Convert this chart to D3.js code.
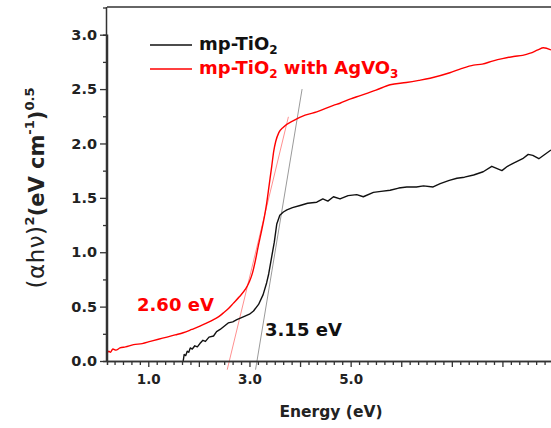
<!DOCTYPE html>
<html><head><meta charset="utf-8">
<script src="https://cdn.jsdelivr.net/npm/d3@7"></script>
<style>
body{margin:0;background:#fff;}
svg text{font-family:"DejaVu Sans",sans-serif;font-weight:bold;}
</style></head>
<body><svg id="c" width="551" height="428"></svg>
<script>
// Data
const blackE = [1.69,1.71,1.74,1.77,1.80,1.83,1.87,1.92,1.97,2.02,2.08,2.13,2.20,2.29,2.35,2.42,2.50,2.58,2.67,2.75,2.90,3.00,3.08,3.18,3.27,3.34,3.38,3.44,3.49,3.54,3.60,3.67,3.74,3.85,4.00,4.15,4.33,4.45,4.55,4.66,4.79,4.95,5.12,5.25,5.45,5.60,5.78,5.95,6.11,6.30,6.44,6.63,6.77,6.95,7.10,7.25,7.43,7.62,7.79,7.99,8.10,8.22,8.40,8.51,8.60,8.72,8.96];
const blackV = [0.00,0.06,0.05,0.09,0.08,0.12,0.11,0.14,0.13,0.16,0.19,0.18,0.22,0.23,0.27,0.29,0.32,0.35,0.36,0.38,0.41,0.43,0.46,0.52,0.61,0.72,0.80,0.96,1.09,1.26,1.34,1.37,1.39,1.41,1.43,1.45,1.46,1.49,1.47,1.51,1.49,1.52,1.53,1.51,1.55,1.56,1.57,1.59,1.60,1.60,1.61,1.60,1.63,1.66,1.68,1.69,1.71,1.74,1.79,1.75,1.79,1.82,1.86,1.90,1.89,1.86,1.94];
const redE = [0.18,0.22,0.25,0.30,0.36,0.44,0.55,0.71,0.88,1.04,1.20,1.37,1.53,1.69,1.86,2.02,2.16,2.29,2.40,2.48,2.58,2.68,2.80,2.92,3.00,3.06,3.12,3.18,3.24,3.30,3.34,3.39,3.44,3.48,3.52,3.58,3.67,3.87,4.10,4.33,4.66,4.79,5.00,5.19,5.50,5.78,6.10,6.35,6.57,6.96,7.20,7.43,7.60,7.82,8.00,8.22,8.40,8.55,8.70,8.81,8.96];
const redV = [0.07,0.09,0.08,0.11,0.10,0.12,0.13,0.15,0.16,0.18,0.20,0.22,0.24,0.26,0.29,0.32,0.35,0.38,0.41,0.44,0.48,0.53,0.59,0.66,0.73,0.81,0.93,1.07,1.20,1.34,1.45,1.62,1.79,1.93,2.02,2.10,2.15,2.21,2.26,2.29,2.35,2.37,2.41,2.44,2.49,2.54,2.56,2.58,2.60,2.65,2.69,2.72,2.73,2.76,2.78,2.80,2.81,2.83,2.86,2.88,2.86];
const redTangent = [[2.56,-0.08],[3.77,2.245]];
const grayTangent = [[3.12,-0.08],[4.04,2.50]];
const xLabelTicks = [1,3,5];
const xMajorTicks = [1,2,3,4,5,6,7,8];
const yMajorTicks = [0,0.5,1.0,1.5,2.0,2.5,3.0];
const yMinorTicks = [0.25,0.75,1.25,1.75,2.25,2.75,3.25];
const seriesNames = ["mp-TiO","mp-TiO"];
const gapLabels = ["2.60 eV","3.15 eV"];

const svg = d3.select("#c");
const L=107, R=552, T=7, B=361;
const x = d3.scaleLinear().domain([0.184, 8.98]).range([L, R]);
const y = d3.scaleLinear().domain([0, 3.0]).range([B, 34.7]);

// minor x ticks every 1/6
const xMinor = d3.range(1, 54).map(i => i/6).filter(v => x(v) >= L && x(v) <= R && Math.abs(v - Math.round(v)) > 1e-6);

// Curves
const line = d3.line().x(d=>x(d[0])).y(d=>y(d[1]));
const smooth = d3.line().x(d=>x(d[0])).y(d=>y(d[1])).curve(d3.curveMonotoneX);
svg.append("path").datum(grayTangent).attr("d", line).attr("stroke","#9a9a9a").attr("stroke-width",1).attr("fill","none");
svg.append("path").datum(redTangent).attr("d", line).attr("stroke","#ff9090").attr("stroke-width",1).attr("fill","none");
svg.append("path").datum(blackE.map((e,i)=>[e,blackV[i]])).attr("d", line).attr("stroke","#111").attr("stroke-width",1.4).attr("fill","none").attr("stroke-linejoin","round");
svg.append("path").datum(redE.map((e,i)=>[e,redV[i]])).attr("d", smooth).attr("stroke","#ff0000").attr("stroke-width",1.4).attr("fill","none").attr("stroke-linejoin","round");

// Axes
const styleAxis = g => { g.select(".domain").attr("stroke","#333").attr("stroke-width",1.5); g.selectAll(".tick line").attr("stroke","#333").attr("stroke-width",1.3); };
svg.append("g").attr("transform",`translate(0,${B})`)
  .call(d3.axisBottom(x).tickValues(xMinor).tickSize(4).tickFormat(""))
  .call(styleAxis);
const gx = svg.append("g").attr("transform",`translate(0,${B})`)
  .call(d3.axisBottom(x).tickValues(xMajorTicks).tickSize(6).tickFormat(d => xLabelTicks.includes(d) ? d.toFixed(1) : ""))
  .call(styleAxis);
gx.select(".domain").attr("d", `M${L},0.5H${R}`);
gx.selectAll(".tick text").attr("fill","#222").attr("font-size","13.5px").attr("y",13).attr("dy","0.71em");
svg.append("g").attr("transform",`translate(${L},0)`)
  .call(d3.axisLeft(y).tickValues(yMinorTicks).tickSize(4).tickFormat(""))
  .call(styleAxis);
const gy = svg.append("g").attr("transform",`translate(${L},0)`)
  .call(d3.axisLeft(y).tickValues(yMajorTicks).tickSize(7).tickFormat(d => d.toFixed(1)))
  .call(styleAxis);
gy.select(".domain").attr("d", `M-0.5,${B}V${T}`);
gy.selectAll(".tick text").attr("fill","#222").attr("font-size","14.5px").attr("x",-10);
svg.append("line").attr("x1",L).attr("x2",R).attr("y1",T).attr("y2",T).attr("stroke","#333").attr("stroke-width",1.5);

// Axis titles
svg.append("text").attr("x",331).attr("y",417).attr("text-anchor","middle").attr("font-size","15.5px").attr("fill","#222").text("Energy (eV)");

const yt = svg.append("text").attr("transform","translate(44,188) rotate(-90)").attr("text-anchor","middle").attr("fill","#222");
yt.append("tspan").attr("font-weight","normal").attr("font-size","23px").attr("letter-spacing","0.5px").text("(αhν)");
yt.append("tspan").attr("font-size","13px").attr("dy","-10").text("2");
yt.append("tspan").attr("font-size","21px").attr("dy","10").text("(eV cm");
yt.append("tspan").attr("font-size","13px").attr("dy","-10").text("-1");
yt.append("tspan").attr("font-size","21px").attr("dy","10").text(")");
yt.append("tspan").attr("font-size","13px").attr("dy","-10").text("0.5");

// Legend
const legColors = ["#111","#ff0000"];
const legY = [45, 69];
seriesNames.forEach((n,i)=>{
  svg.append("line").attr("x1",150).attr("x2",192).attr("y1",legY[i]).attr("y2",legY[i]).attr("stroke",legColors[i]).attr("stroke-width",1.5);
  const t = svg.append("text").attr("x",199).attr("y",legY[i]+4.5).attr("font-size","18px").attr("fill",legColors[i]);
  t.append("tspan").text(n);
  t.append("tspan").attr("font-size","12px").attr("dy","4").text("2");
  if(i===1){
    t.append("tspan").attr("dy","-4").text(" with AgVO");
    t.append("tspan").attr("font-size","12px").attr("dy","4").text("3");
  }
});

// Gap annotations
svg.append("text").attr("x",137).attr("y",310.5).attr("font-size","18px").attr("fill","#ff0000").text(gapLabels[0]);
svg.append("text").attr("x",265).attr("y",336).attr("font-size","18px").attr("fill","#111").text(gapLabels[1]);
</script></body></html>
